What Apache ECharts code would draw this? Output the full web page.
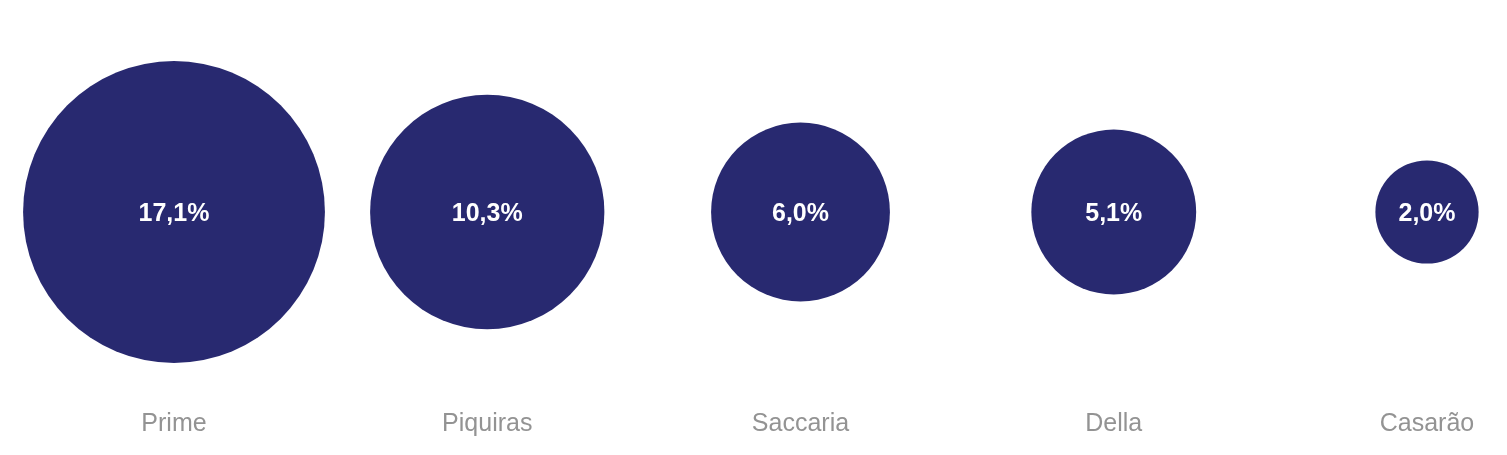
<!DOCTYPE html>
<html>
<head>
<meta charset="utf-8">
<script src="https://cdn.jsdelivr.net/npm/echarts@6/dist/echarts.min.js"></script>
<style>
html,body{margin:0;padding:0;background:#fff;}
#chart{width:1507px;height:455px;}
</style>
</head>
<body>
<div id="chart"></div>
<script>
const categories = ['Prime', 'Piquiras', 'Saccaria', 'Della', 'Casarão'];
const shares = [17.1, 10.3, 6.0, 5.1, 2.0];
const labels = ['17,1%', '10,3%', '6,0%', '5,1%', '2,0%'];

const chart = echarts.init(document.getElementById('chart'));
chart.setOption({
  animation: false,
  backgroundColor: '#ffffff',
  grid: { left: 174, right: 80, top: 20, bottom: 51, containLabel: false },
  xAxis: {
    type: 'category',
    data: categories,
    boundaryGap: false,
    axisLine: { show: false },
    axisTick: { show: false },
    splitLine: { show: false },
    axisLabel: {
      color: '#939393',
      fontSize: 25,
      fontFamily: 'Liberation Sans, Arial, sans-serif',
      margin: 8,
      interval: 0
    }
  },
  yAxis: {
    type: 'value',
    min: -1,
    max: 1,
    show: false
  },
  series: [{
    type: 'scatter',
    data: shares.map((v, i) => ({ value: [i, 0] })),
    symbol: 'circle',
    symbolSize: function (val, params) {
      return 73 * Math.sqrt(shares[params.dataIndex]);
    },
    itemStyle: { color: '#282970', opacity: 1 },
    label: {
      show: true,
      position: 'inside',
      offset: [0, 2],
      formatter: function (p) { return labels[p.dataIndex]; },
      color: '#ffffff',
      fontSize: 25,
      fontWeight: 'bold',
      fontFamily: 'Liberation Sans, Arial, sans-serif'
    },
    emphasis: { disabled: true }
  }]
});
</script>
</body>
</html>
